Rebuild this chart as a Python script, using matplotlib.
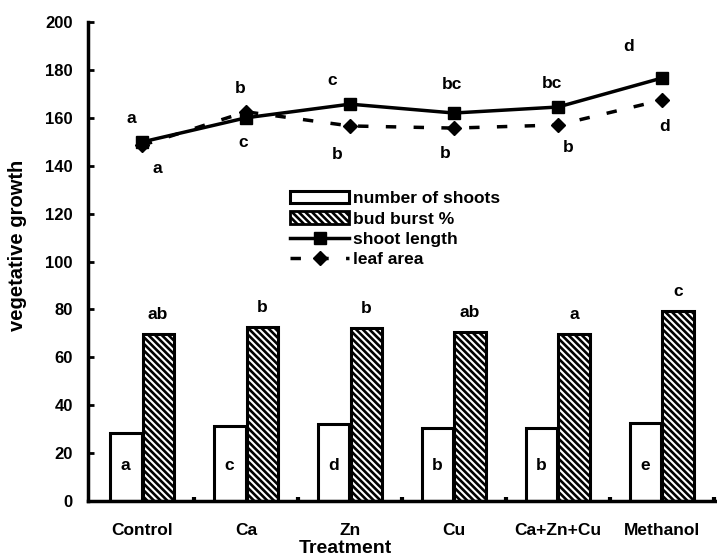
import numpy as np
import matplotlib.pyplot as plt

plt.rcParams['font.family'] = ['Liberation Sans', 'DejaVu Sans']
plt.rcParams['font.weight'] = 'bold'
plt.rcParams['axes.labelweight'] = 'bold'
plt.rcParams['hatch.linewidth'] = 1.9

treatments = ["Control", "Ca", "Zn", "Cu", "Ca+Zn+Cu", "Methanol"]
num_shoots = [28.4, 31.3, 32.2, 30.5, 30.5, 32.6]
bud_burst = [69.7, 72.7, 72.2, 70.6, 69.7, 79.3]
shoot_length = [149.9, 160.0, 165.7, 162.0, 164.5, 176.6]
leaf_area = [148.5, 162.5, 156.6, 155.7, 157.0, 167.4]

shoots_letters = ["a", "c", "d", "b", "b", "e"]
burst_letters = ["ab", "b", "b", "ab", "a", "c"]
length_letters = ["a", "b", "c", "bc", "bc", "d"]
leaf_letters = ["a", "c", "b", "b", "b", "d"]

fig = plt.figure(figsize=(7.17, 5.56), dpi=100)
ax = fig.add_axes([88/717, 1-501/556, 1-88/717, (501-22)/556])

x = np.arange(len(treatments))
w = 0.3

# bars
ax.bar(x - 0.155, num_shoots, w, color="white", edgecolor="black", linewidth=2.2)
ax.bar(x + 0.155, bud_burst, w, color="white", edgecolor="black", hatch="\\\\\\\\\\", linewidth=0)
ax.bar(x + 0.155, bud_burst, w, color="none", edgecolor="black", linewidth=2.2)
burst_handle = plt.Rectangle((0, 0), 1, 1, facecolor="white", edgecolor="black", hatch="\\\\\\\\\\", linewidth=2)

# lines
l1, = ax.plot(x, shoot_length, color="black", lw=2.5, marker="s", ms=8)
l2, = ax.plot(x, leaf_area, color="black", lw=2.5, ls=(0, (3, 5)), marker="D", ms=7)

# letters
for i in range(len(x)):
    ax.text(x[i] - 0.16, 15, shoots_letters[i], ha="center", va="center", fontsize=12.5)
    ax.text(x[i] + 0.155, bud_burst[i] + 8.3, burst_letters[i], ha="center", va="center", fontsize=12.5)

len_dx = [-0.1, -0.06, -0.17, -0.02, -0.06, -0.32]
len_dy = [10, 12.4, 9.7, 11.7, 10, 13]
leaf_dx = [0.15, -0.03, -0.12, -0.08, 0.1, 0.03]
leaf_dy = [-9.5, -13, -12, -10.4, -9.2, -11.2]
for i in range(len(x)):
    ax.text(x[i] + len_dx[i], shoot_length[i] + len_dy[i], length_letters[i], ha="center", va="center", fontsize=12.5)
    ax.text(x[i] + leaf_dx[i], leaf_area[i] + leaf_dy[i], leaf_letters[i], ha="center", va="center", fontsize=12.5)

ax.set_xlim(-0.52, 5.53)
ax.set_ylim(0, 200)
ax.set_yticks(np.arange(0, 201, 20))
ax.set_xticks(x)
ax.set_xticklabels(treatments)
ax.set_xticks(x + 0.5, minor=True)
ax.tick_params(axis="x", which="major", length=0, pad=16, labelsize=12.5)
ax.tick_params(axis="x", which="minor", direction="in", length=3, width=3)
ax.tick_params(axis="y", direction="in", length=4, width=2, labelsize=12, pad=11)

for s in ["top", "right"]:
    ax.spines[s].set_visible(False)
for s in ["left", "bottom"]:
    ax.spines[s].set_linewidth(2.5)

ax.set_ylabel("vegetative growth", fontsize=14.5)
ax.yaxis.set_label_coords(-(88-17.5)/629, (501-245)/479)
ax.yaxis.label.set_va("center")
ax.set_xlabel("Treatment", fontsize=14)
ax.xaxis.set_label_coords((345-88)/629, -(540-501)/479)
ax.xaxis.label.set_va("top")

ax.legend([ax.patches[0], burst_handle, l1, l2],
          ["number of shoots", "bud burst %", "shoot length", "leaf area"],
          loc="upper left", bbox_to_anchor=(290/717, 1-191/556), bbox_transform=fig.transFigure,
          frameon=False, handlelength=3.4, handletextpad=0.25, labelspacing=0.3, fontsize=12.5,
          borderaxespad=0, borderpad=0)

fig.savefig("out.png", dpi=100)
